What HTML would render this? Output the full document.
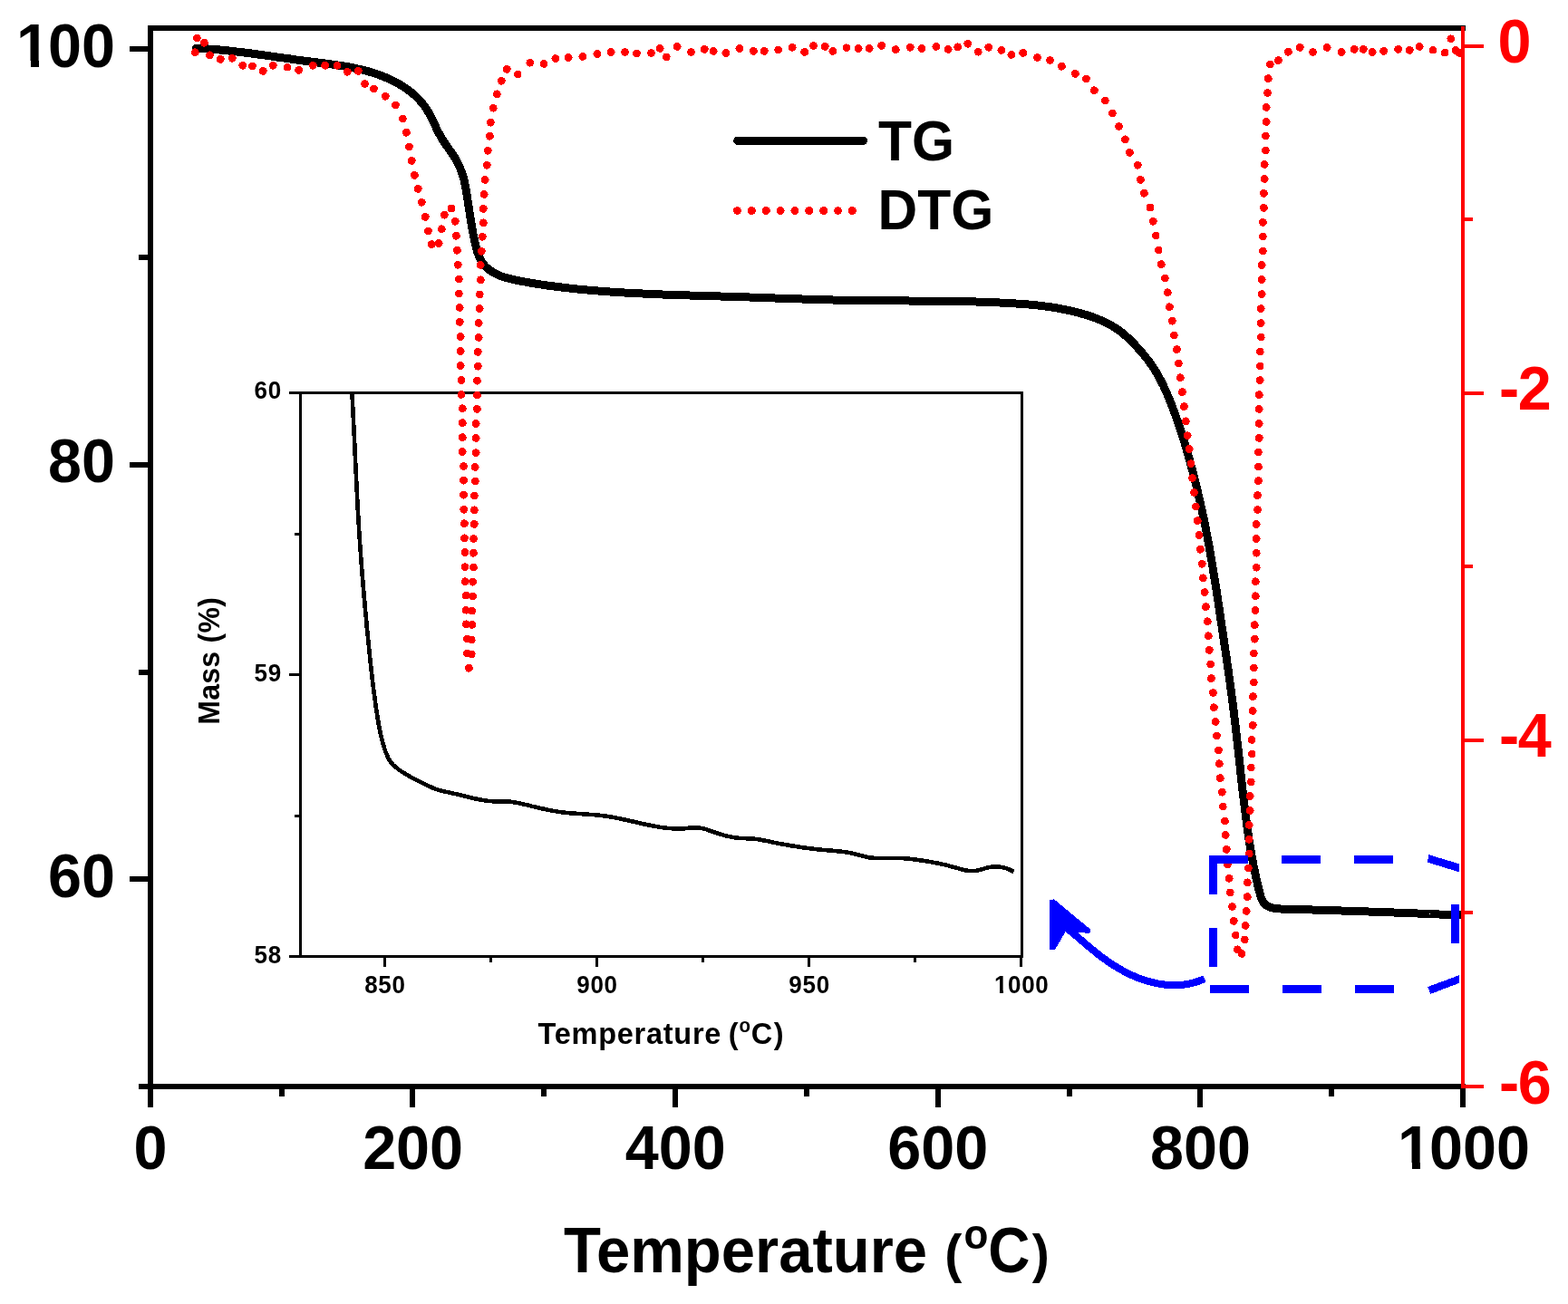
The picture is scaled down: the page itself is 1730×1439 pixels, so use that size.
<!DOCTYPE html>
<html lang="en">
<head>
<meta charset="utf-8">
<title>TG / DTG curves</title>
<style>
html,body{margin:0;padding:0;background:#fff;}
body{width:1730px;height:1439px;overflow:hidden;}
svg{display:block;}
text{font-family:"Liberation Sans",sans-serif;font-weight:bold;}
</style>
</head>
<body>
<svg width="1730" height="1439" viewBox="0 0 1730 1439" shape-rendering="crispEdges">
<rect width="1730" height="1439" fill="#fff"/>
<g id="curves">
<path d="M216.2 53.3L218.3 53.4L220.3 53.5L222.3 53.6L224.3 53.7L226.3 53.8L228.3 53.9L230.3 54.1L232.3 54.2L234.3 54.3L236.3 54.5L238.3 54.7L240.3 54.8L242.3 55.0L244.3 55.2L246.3 55.4L248.3 55.6L250.3 55.8L252.3 56.0L254.3 56.2L256.3 56.4L258.2 56.6L260.2 56.9L262.2 57.1L264.2 57.3L266.2 57.6L268.1 57.8L270.1 58.1L272.1 58.3L274.1 58.6L276.0 58.8L278.0 59.1L280.0 59.4L282.0 59.6L284.0 59.9L285.9 60.2L287.9 60.4L289.9 60.7L291.8 61.0L293.8 61.3L295.8 61.6L297.8 61.8L299.7 62.1L301.7 62.4L303.7 62.7L305.7 63.0L307.7 63.3L309.6 63.5L311.6 63.8L313.6 64.1L315.6 64.4L317.5 64.7L319.5 64.9L321.5 65.2L323.5 65.5L325.5 65.8L327.5 66.1L329.5 66.3L331.4 66.6L333.4 66.9L335.4 67.1L337.4 67.4L339.4 67.6L341.4 67.9L343.4 68.1L345.4 68.4L347.4 68.6L349.4 68.9L351.4 69.1L353.4 69.4L355.4 69.6L357.4 69.9L359.4 70.1L361.4 70.4L363.4 70.7L365.4 70.9L367.4 71.2L369.4 71.5L371.4 71.8L373.3 72.1L375.3 72.4L377.3 72.7L379.3 73.0L381.3 73.3L383.2 73.7L385.2 74.0L387.2 74.4L389.1 74.8L391.1 75.2L393.0 75.6L395.0 76.0L396.9 76.4L398.9 76.9L400.8 77.4L402.7 77.9L404.6 78.4L406.6 78.9L408.5 79.4L410.4 80.0L412.3 80.6L414.1 81.2L416.0 81.8L417.9 82.5L419.7 83.2L421.6 83.9L423.4 84.6L425.3 85.4L427.1 86.1L428.9 87.0L430.7 87.8L432.5 88.7L434.3 89.6L436.1 90.5L437.9 91.4L439.6 92.4L441.4 93.4L443.1 94.5L444.8 95.6L446.5 96.7L448.2 97.8L449.8 99.0L451.5 100.2L453.1 101.4L454.6 102.7L456.2 104.0L457.7 105.3L459.2 106.7L460.6 108.1L462.0 109.5L463.4 111.0L464.7 112.5L466.0 114.0L467.2 115.6L468.4 117.1L469.6 118.8L470.7 120.4L471.7 122.1L472.7 123.8L473.7 125.6L474.6 127.3L475.6 129.1L476.5 130.9L477.3 132.7L478.2 134.5L479.1 136.3L479.9 138.1L480.8 139.9L481.6 141.8L482.5 143.6L483.4 145.4L484.3 147.1L485.3 148.9L486.2 150.7L487.3 152.4L488.3 154.1L489.4 155.8L490.5 157.5L491.6 159.1L492.8 160.8L493.9 162.4L495.1 164.1L496.2 165.7L497.4 167.3L498.5 169.0L499.6 170.6L500.7 172.3L501.8 174.0L502.8 175.7L503.8 177.4L504.7 179.1L505.6 180.9L506.5 182.7L507.3 184.5L508.0 186.3L508.7 188.2L509.4 190.1L510.0 192.0L510.6 193.9L511.2 195.8L511.7 197.7L512.2 199.7L512.6 201.7L513.0 203.6L513.4 205.6L513.8 207.6L514.2 209.6L514.5 211.6L514.9 213.6L515.2 215.6L515.5 217.6L515.8 219.6L516.1 221.6L516.4 223.5L516.7 225.5L517.0 227.5L517.3 229.5L517.6 231.4L517.9 233.4L518.2 235.4L518.5 237.4L518.8 239.3L519.1 241.3L519.4 243.2L519.7 245.2L520.1 247.2L520.4 249.1L520.7 251.1L521.1 253.0L521.4 255.0L521.8 257.0L522.2 258.9L522.6 260.9L523.0 262.8L523.4 264.8L523.8 266.8L524.3 268.7L524.8 270.7L525.3 272.7L525.8 274.6L526.3 276.6L526.9 278.5L527.6 280.4L528.3 282.3L529.0 284.2L529.9 286.0L530.8 287.7L531.9 289.4L533.0 291.0L534.3 292.6L535.6 294.1L537.0 295.4L538.6 296.8L540.1 298.0L541.8 299.1L543.4 300.2L545.1 301.2L546.9 302.1L548.7 303.0L550.5 303.7L552.3 304.5L554.2 305.2L556.1 305.8L558.0 306.4L559.9 306.9L561.9 307.4L563.8 307.9L565.8 308.4L567.8 308.8L569.8 309.2L571.8 309.6L573.7 310.0L575.7 310.4L577.7 310.8L579.7 311.1L581.7 311.5L583.7 311.8L585.6 312.2L587.6 312.5L589.6 312.9L591.6 313.2L593.6 313.5L595.6 313.8L597.5 314.1L599.5 314.4L601.5 314.7L603.5 315.0L605.5 315.2L607.4 315.5L609.4 315.8L611.4 316.0L613.4 316.3L615.4 316.5L617.3 316.8L619.3 317.0L621.3 317.2L623.3 317.5L625.3 317.7L627.2 317.9L629.2 318.1L631.2 318.3L633.2 318.5L635.2 318.8L637.2 319.0L639.2 319.2L641.1 319.3L643.1 319.5L645.1 319.7L647.1 319.9L649.1 320.1L651.1 320.3L653.1 320.4L655.1 320.6L657.1 320.8L659.0 320.9L661.0 321.1L663.0 321.2L665.0 321.4L667.0 321.5L669.0 321.7L671.0 321.8L673.0 322.0L675.0 322.1L677.0 322.2L679.0 322.4L681.0 322.5L683.0 322.6L685.0 322.7L687.0 322.9L689.0 323.0L691.0 323.1L693.0 323.2L695.0 323.3L697.0 323.4L699.0 323.5L701.0 323.6L702.9 323.7L704.9 323.8L706.9 323.9L708.9 324.0L710.9 324.1L712.9 324.2L714.9 324.3L716.9 324.4L718.9 324.5L720.9 324.6L722.9 324.6L724.9 324.7L727.0 324.8L729.0 324.9L731.0 325.0L733.0 325.0L735.0 325.1L737.0 325.2L739.0 325.3L741.0 325.3L743.0 325.4L745.0 325.5L747.0 325.5L749.0 325.6L751.0 325.7L753.0 325.7L755.0 325.8L757.0 325.8L759.0 325.9L761.0 326.0L763.0 326.0L765.0 326.1L767.0 326.2L769.0 326.2L771.0 326.3L773.0 326.3L775.0 326.4L777.0 326.5L779.0 326.5L781.0 326.6L783.0 326.6L785.0 326.7L787.0 326.7L789.0 326.8L791.0 326.9L793.0 326.9L795.0 327.0L797.0 327.0L799.0 327.1L801.0 327.2L803.0 327.2L805.0 327.3L807.1 327.3L809.1 327.4L811.1 327.5L813.1 327.5L815.1 327.6L817.1 327.7L819.1 327.7L821.1 327.8L823.1 327.9L825.1 327.9L827.1 328.0L829.1 328.1L831.1 328.1L833.1 328.2L835.1 328.3L837.1 328.3L839.1 328.4L841.1 328.5L843.1 328.6L845.1 328.6L847.1 328.7L849.1 328.8L851.1 328.8L853.1 328.9L855.1 329.0L857.1 329.0L859.1 329.1L861.0 329.2L863.0 329.3L865.0 329.3L867.0 329.4L869.0 329.5L871.0 329.5L873.0 329.6L875.0 329.7L877.0 329.7L879.0 329.8L881.0 329.9L883.0 329.9L885.0 330.0L887.0 330.1L889.0 330.1L891.0 330.2L893.0 330.3L895.0 330.3L897.0 330.4L899.0 330.4L901.0 330.5L903.0 330.6L905.0 330.6L907.0 330.7L909.0 330.7L911.0 330.8L913.0 330.8L915.0 330.9L917.0 330.9L919.0 331.0L921.0 331.0L923.0 331.1L925.0 331.1L927.0 331.2L929.0 331.2L931.0 331.3L933.0 331.3L935.0 331.3L937.0 331.4L939.0 331.4L941.0 331.4L943.0 331.5L945.0 331.5L947.0 331.5L949.0 331.6L951.0 331.6L953.0 331.6L955.0 331.6L957.0 331.7L959.0 331.7L961.0 331.7L963.0 331.7L965.0 331.7L967.0 331.7L969.0 331.8L971.0 331.8L973.0 331.8L975.0 331.8L977.0 331.8L979.0 331.8L981.0 331.8L983.0 331.9L985.0 331.9L987.0 331.9L989.0 331.9L991.1 331.9L993.1 331.9L995.1 331.9L997.1 331.9L999.1 331.9L1001.1 331.9L1003.1 332.0L1005.1 332.0L1007.1 332.0L1009.1 332.0L1011.1 332.0L1013.1 332.0L1015.1 332.0L1017.1 332.0L1019.1 332.1L1021.1 332.1L1023.1 332.1L1025.1 332.1L1027.1 332.1L1029.1 332.1L1031.1 332.1L1033.1 332.2L1035.1 332.2L1037.1 332.2L1039.1 332.2L1041.1 332.3L1043.1 332.3L1045.1 332.3L1047.1 332.3L1049.1 332.4L1051.1 332.4L1053.1 332.4L1055.1 332.5L1057.1 332.5L1059.1 332.5L1061.1 332.6L1063.1 332.6L1065.1 332.7L1067.1 332.7L1069.1 332.8L1071.1 332.8L1073.1 332.9L1075.1 332.9L1077.1 333.0L1079.1 333.0L1081.1 333.1L1083.1 333.2L1085.1 333.2L1087.1 333.3L1089.1 333.4L1091.1 333.5L1093.1 333.5L1095.1 333.6L1097.1 333.7L1099.1 333.8L1101.1 333.9L1103.1 334.0L1105.1 334.1L1107.1 334.2L1109.1 334.3L1111.1 334.4L1113.1 334.5L1115.1 334.6L1117.1 334.7L1119.1 334.8L1121.1 335.0L1123.1 335.1L1125.1 335.2L1127.1 335.4L1129.1 335.5L1131.1 335.7L1133.1 335.9L1135.1 336.0L1137.1 336.2L1139.1 336.4L1141.0 336.6L1143.0 336.8L1145.0 337.0L1147.0 337.3L1149.0 337.5L1151.0 337.7L1152.9 338.0L1154.9 338.3L1156.9 338.5L1158.9 338.8L1160.9 339.1L1162.8 339.4L1164.8 339.8L1166.8 340.1L1168.7 340.4L1170.7 340.8L1172.7 341.2L1174.6 341.6L1176.6 342.0L1178.5 342.4L1180.5 342.8L1182.4 343.3L1184.4 343.7L1186.3 344.2L1188.3 344.7L1190.2 345.2L1192.2 345.7L1194.1 346.3L1196.0 346.8L1198.0 347.4L1199.9 348.0L1201.8 348.6L1203.7 349.3L1205.6 349.9L1207.5 350.6L1209.4 351.3L1211.3 352.1L1213.1 352.8L1215.0 353.6L1216.8 354.4L1218.6 355.3L1220.4 356.1L1222.2 357.0L1224.0 358.0L1225.7 358.9L1227.4 359.9L1229.1 361.0L1230.8 362.0L1232.5 363.1L1234.1 364.3L1235.7 365.4L1237.3 366.7L1238.9 367.9L1240.4 369.2L1241.9 370.5L1243.4 371.8L1244.9 373.2L1246.3 374.6L1247.8 376.0L1249.2 377.4L1250.6 378.8L1252.0 380.3L1253.3 381.8L1254.7 383.2L1256.0 384.7L1257.4 386.2L1258.7 387.8L1260.0 389.3L1261.3 390.8L1262.6 392.4L1263.8 393.9L1265.1 395.5L1266.3 397.0L1267.5 398.6L1268.7 400.2L1269.8 401.9L1271.0 403.5L1272.1 405.2L1273.2 406.8L1274.2 408.5L1275.3 410.2L1276.3 411.9L1277.3 413.6L1278.3 415.4L1279.2 417.1L1280.2 418.9L1281.1 420.7L1282.0 422.5L1282.9 424.2L1283.8 426.0L1284.6 427.9L1285.4 429.7L1286.3 431.5L1287.1 433.3L1287.9 435.2L1288.7 437.0L1289.4 438.9L1290.2 440.7L1291.0 442.6L1291.7 444.5L1292.4 446.3L1293.2 448.2L1293.9 450.1L1294.6 452.0L1295.3 453.8L1296.0 455.7L1296.7 457.6L1297.4 459.5L1298.0 461.4L1298.7 463.3L1299.4 465.2L1300.0 467.1L1300.7 468.9L1301.3 470.8L1301.9 472.7L1302.6 474.6L1303.2 476.5L1303.8 478.4L1304.4 480.3L1305.0 482.3L1305.6 484.2L1306.2 486.1L1306.8 488.0L1307.4 489.9L1307.9 491.8L1308.5 493.7L1309.1 495.6L1309.6 497.6L1310.2 499.5L1310.7 501.4L1311.3 503.3L1311.8 505.2L1312.3 507.2L1312.9 509.1L1313.4 511.0L1313.9 513.0L1314.4 514.9L1315.0 516.8L1315.5 518.7L1316.0 520.7L1316.5 522.6L1317.0 524.6L1317.5 526.5L1318.0 528.4L1318.4 530.4L1318.9 532.3L1319.4 534.2L1319.9 536.2L1320.4 538.1L1320.8 540.1L1321.3 542.0L1321.8 544.0L1322.2 545.9L1322.7 547.9L1323.1 549.8L1323.6 551.8L1324.0 553.7L1324.5 555.7L1324.9 557.6L1325.3 559.6L1325.8 561.5L1326.2 563.5L1326.6 565.4L1327.0 567.4L1327.4 569.4L1327.9 571.3L1328.3 573.3L1328.7 575.2L1329.1 577.2L1329.5 579.2L1329.9 581.1L1330.3 583.1L1330.6 585.0L1331.0 587.0L1331.4 589.0L1331.8 590.9L1332.2 592.9L1332.5 594.9L1332.9 596.8L1333.3 598.8L1333.6 600.8L1334.0 602.7L1334.3 604.7L1334.7 606.7L1335.0 608.7L1335.4 610.6L1335.7 612.6L1336.1 614.6L1336.4 616.5L1336.8 618.5L1337.1 620.5L1337.4 622.5L1337.7 624.4L1338.1 626.4L1338.4 628.4L1338.7 630.4L1339.0 632.3L1339.4 634.3L1339.7 636.3L1340.0 638.3L1340.3 640.2L1340.6 642.2L1340.9 644.2L1341.3 646.2L1341.6 648.2L1341.9 650.1L1342.2 652.1L1342.5 654.1L1342.8 656.1L1343.1 658.0L1343.4 660.0L1343.7 662.0L1344.0 664.0L1344.3 666.0L1344.6 667.9L1344.9 669.9L1345.2 671.9L1345.5 673.9L1345.8 675.9L1346.1 677.8L1346.4 679.8L1346.6 681.8L1346.9 683.8L1347.2 685.8L1347.5 687.7L1347.8 689.7L1348.1 691.7L1348.4 693.7L1348.7 695.6L1349.0 697.6L1349.3 699.6L1349.6 701.6L1349.9 703.6L1350.2 705.5L1350.5 707.5L1350.8 709.5L1351.0 711.5L1351.3 713.4L1351.6 715.4L1351.9 717.4L1352.2 719.4L1352.5 721.4L1352.8 723.3L1353.1 725.3L1353.4 727.3L1353.6 729.3L1353.9 731.2L1354.2 733.2L1354.5 735.2L1354.8 737.2L1355.1 739.2L1355.3 741.1L1355.6 743.1L1355.9 745.1L1356.2 747.1L1356.5 749.1L1356.7 751.0L1357.0 753.0L1357.3 755.0L1357.6 757.0L1357.8 759.0L1358.1 761.0L1358.4 762.9L1358.6 764.9L1358.9 766.9L1359.1 768.9L1359.4 770.9L1359.7 772.9L1359.9 774.8L1360.2 776.8L1360.4 778.8L1360.7 780.8L1360.9 782.8L1361.2 784.8L1361.4 786.8L1361.6 788.8L1361.9 790.8L1362.1 792.7L1362.4 794.7L1362.6 796.7L1362.8 798.7L1363.1 800.7L1363.3 802.7L1363.5 804.7L1363.8 806.7L1364.0 808.7L1364.2 810.7L1364.4 812.7L1364.7 814.7L1364.9 816.6L1365.1 818.6L1365.3 820.6L1365.6 822.6L1365.8 824.6L1366.0 826.6L1366.2 828.6L1366.4 830.6L1366.6 832.6L1366.9 834.6L1367.1 836.6L1367.3 838.6L1367.5 840.6L1367.7 842.5L1368.0 844.5L1368.2 846.5L1368.4 848.5L1368.6 850.5L1368.8 852.5L1369.0 854.5L1369.3 856.5L1369.5 858.5L1369.7 860.5L1369.9 862.4L1370.1 864.4L1370.4 866.4L1370.6 868.4L1370.8 870.4L1371.0 872.4L1371.3 874.3L1371.5 876.3L1371.7 878.3L1371.9 880.3L1372.2 882.3L1372.4 884.3L1372.6 886.2L1372.9 888.2L1373.1 890.2L1373.4 892.2L1373.6 894.1L1373.9 896.1L1374.1 898.1L1374.4 900.1L1374.6 902.1L1374.9 904.0L1375.1 906.0L1375.4 908.0L1375.7 910.0L1375.9 911.9L1376.2 913.9L1376.5 915.9L1376.8 917.9L1377.1 919.8L1377.3 921.8L1377.6 923.8L1377.9 925.8L1378.2 927.7L1378.6 929.7L1378.9 931.7L1379.2 933.7L1379.5 935.6L1379.9 937.6L1380.2 939.6L1380.5 941.6L1380.9 943.6L1381.2 945.5L1381.6 947.5L1382.0 949.5L1382.3 951.5L1382.7 953.4L1383.1 955.4L1383.5 957.4L1383.9 959.4L1384.3 961.4L1384.7 963.3L1385.1 965.3L1385.6 967.3L1386.0 969.3L1386.4 971.3L1386.9 973.2L1387.4 975.2L1387.8 977.2L1388.3 979.2L1388.8 981.2L1389.3 983.2L1389.8 985.1L1390.3 987.1L1390.9 989.0L1391.6 990.9L1392.3 992.6L1393.2 994.3L1394.1 995.9L1395.3 997.3L1396.6 998.5L1398.0 999.6L1399.6 1000.5L1401.4 1001.2L1403.2 1001.8L1405.0 1002.2L1407.0 1002.5L1409.0 1002.7L1411.0 1002.9L1413.1 1003.0L1415.1 1003.0L1417.2 1003.1L1419.3 1003.1L1421.4 1003.2L1423.4 1003.3L1425.5 1003.3L1427.5 1003.4L1429.6 1003.4L1431.6 1003.5L1433.7 1003.5L1435.7 1003.6L1437.8 1003.7L1439.8 1003.7L1441.9 1003.8L1443.9 1003.8L1445.9 1003.9L1447.9 1004.0L1450.0 1004.0L1452.0 1004.1L1454.0 1004.1L1456.0 1004.2L1458.1 1004.3L1460.1 1004.3L1462.1 1004.4L1464.1 1004.4L1466.1 1004.5L1468.1 1004.6L1470.1 1004.6L1472.1 1004.7L1474.1 1004.8L1476.1 1004.8L1478.1 1004.9L1480.1 1005.0L1482.1 1005.0L1484.1 1005.1L1486.1 1005.2L1488.1 1005.2L1490.1 1005.3L1492.1 1005.4L1494.1 1005.4L1496.0 1005.5L1498.0 1005.6L1500.0 1005.6L1502.0 1005.7L1504.0 1005.8L1506.0 1005.9L1507.9 1005.9L1509.9 1006.0L1511.9 1006.1L1513.9 1006.1L1515.9 1006.2L1517.9 1006.3L1519.8 1006.4L1521.8 1006.4L1523.8 1006.5L1525.8 1006.6L1527.8 1006.6L1529.7 1006.7L1531.7 1006.8L1533.7 1006.9L1535.7 1006.9L1537.7 1007.0L1539.6 1007.1L1541.6 1007.2L1543.6 1007.2L1545.6 1007.3L1547.6 1007.4L1549.6 1007.5L1551.6 1007.5L1553.5 1007.6L1555.5 1007.7L1557.5 1007.8L1559.5 1007.9L1561.5 1007.9L1563.5 1008.0L1565.5 1008.1L1567.5 1008.2L1569.5 1008.2L1571.5 1008.3L1573.5 1008.4L1575.5 1008.5L1577.5 1008.6L1579.5 1008.6L1581.5 1008.7L1583.5 1008.8L1585.6 1008.9L1587.6 1009.0L1589.6 1009.0L1591.6 1009.1L1593.6 1009.2L1595.7 1009.3L1597.7 1009.4L1599.7 1009.4L1601.7 1009.5L1603.8 1009.6L1605.8 1009.7L1607.9 1009.8L1609.9 1009.8L1611.9 1009.9" fill="none" stroke="#000" stroke-width="9" stroke-linejoin="round" stroke-linecap="round"/>
</g>
<g id="inset">
<rect x="319" y="432" width="809.9" height="3" fill="#000"/>
<rect x="319" y="1053.9" width="809.9" height="3" fill="#000"/>
<rect x="330" y="432" width="3" height="624.9" fill="#000"/>
<rect x="1125.9" y="432" width="3" height="624.9" fill="#000"/>
<rect x="319" y="742.95" width="11" height="3" fill="#000"/>
<rect x="325" y="588" width="5" height="3" fill="#000"/>
<rect x="325" y="899" width="5" height="3" fill="#000"/>
<rect x="423" y="1056" width="3" height="10.8" fill="#000"/>
<rect x="657.1" y="1056" width="3" height="10.8" fill="#000"/>
<rect x="891.2" y="1056" width="3" height="10.8" fill="#000"/>
<rect x="1125.3" y="1056" width="3" height="10.8" fill="#000"/>
<rect x="540.05" y="1056" width="3" height="5.5" fill="#000"/>
<rect x="774.15" y="1056" width="3" height="5.5" fill="#000"/>
<rect x="1008.25" y="1056" width="3" height="5.5" fill="#000"/>
<text transform="translate(310.8,440.1) scale(1,1.04)" font-size="26" text-anchor="end" fill="#000" letter-spacing="0.7">60</text>
<text transform="translate(310.8,751.55) scale(1,1.04)" font-size="26" text-anchor="end" fill="#000" letter-spacing="0.7">59</text>
<text transform="translate(310.8,1062.5) scale(1,1.04)" font-size="26" text-anchor="end" fill="#000" letter-spacing="0.7">58</text>
<text transform="translate(424.9,1096.2) scale(1,1.04)" font-size="26" text-anchor="middle" fill="#000" letter-spacing="0.7">850</text>
<text transform="translate(659,1096.2) scale(1,1.04)" font-size="26" text-anchor="middle" fill="#000" letter-spacing="0.7">900</text>
<text transform="translate(893.1,1096.2) scale(1,1.04)" font-size="26" text-anchor="middle" fill="#000" letter-spacing="0.7">950</text>
<text transform="translate(1127.2,1096.2) scale(1,1.04)" font-size="26" text-anchor="middle" fill="#000" letter-spacing="0.7">1000</text>
<text transform="translate(593.5,1152.3) scale(1,1.04)" font-size="32.5" text-anchor="start" fill="#000" letter-spacing="0.75">Temperature <tspan x="210.2">(</tspan><tspan x="222" font-size="20.5" dy="-13">o</tspan><tspan x="235.2" font-size="32.5" dy="13">C</tspan><tspan x="260.2">)</tspan></text>
<text transform="translate(242.4,799.8) rotate(-90) scale(1,1.04)" font-size="32" text-anchor="start" fill="#000" letter-spacing="0.3">Mass (%)</text>
<path d="M388.5 434.7L388.6 436.7L388.7 438.7L388.8 440.7L388.9 442.7L389.0 444.7L389.1 446.7L389.2 448.7L389.3 450.7L389.4 452.7L389.5 454.7L389.6 456.7L389.7 458.7L389.8 460.7L389.9 462.7L390.0 464.7L390.1 466.7L390.2 468.7L390.3 470.7L390.4 472.7L390.5 474.7L390.6 476.7L390.7 478.7L390.8 480.7L390.9 482.7L391.0 484.7L391.1 486.7L391.2 488.7L391.3 490.7L391.4 492.7L391.5 494.7L391.6 496.7L391.7 498.7L391.7 500.7L391.8 502.7L391.9 504.7L392.0 506.7L392.1 508.7L392.2 510.7L392.3 512.7L392.4 514.7L392.5 516.6L392.6 518.6L392.7 520.6L392.8 522.6L392.9 524.6L393.0 526.6L393.1 528.6L393.2 530.6L393.3 532.6L393.4 534.6L393.5 536.6L393.6 538.6L393.7 540.6L393.8 542.6L393.9 544.6L394.0 546.6L394.1 548.6L394.2 550.6L394.3 552.6L394.4 554.6L394.5 556.6L394.6 558.6L394.7 560.6L394.8 562.6L394.9 564.6L395.1 566.6L395.2 568.6L395.3 570.6L395.4 572.6L395.5 574.6L395.6 576.6L395.8 578.6L395.9 580.6L396.0 582.6L396.1 584.6L396.3 586.6L396.4 588.6L396.5 590.6L396.7 592.6L396.8 594.6L396.9 596.6L397.1 598.6L397.2 600.6L397.3 602.6L397.5 604.6L397.6 606.5L397.8 608.5L397.9 610.5L398.1 612.5L398.2 614.5L398.3 616.5L398.5 618.5L398.6 620.5L398.8 622.5L399.0 624.5L399.1 626.5L399.3 628.5L399.4 630.5L399.6 632.5L399.7 634.5L399.9 636.5L400.1 638.5L400.2 640.5L400.4 642.4L400.5 644.4L400.7 646.4L400.9 648.4L401.0 650.4L401.2 652.4L401.4 654.4L401.6 656.4L401.7 658.4L401.9 660.4L402.1 662.4L402.3 664.4L402.4 666.4L402.6 668.4L402.8 670.3L403.0 672.3L403.1 674.3L403.3 676.3L403.5 678.3L403.7 680.3L403.9 682.3L404.1 684.3L404.3 686.3L404.4 688.3L404.6 690.3L404.8 692.3L405.0 694.3L405.2 696.3L405.4 698.3L405.6 700.2L405.8 702.2L406.0 704.2L406.2 706.2L406.4 708.2L406.6 710.2L406.8 712.2L407.0 714.2L407.2 716.2L407.4 718.2L407.6 720.2L407.8 722.2L408.0 724.2L408.2 726.2L408.4 728.1L408.6 730.1L408.9 732.1L409.1 734.1L409.3 736.1L409.5 738.1L409.7 740.1L410.0 742.1L410.2 744.1L410.4 746.1L410.6 748.1L410.9 750.0L411.1 752.0L411.3 754.0L411.6 756.0L411.8 758.0L412.1 760.0L412.3 762.0L412.6 763.9L412.8 765.9L413.1 767.9L413.4 769.9L413.6 771.9L413.9 773.8L414.2 775.8L414.4 777.8L414.7 779.8L415.0 781.7L415.3 783.7L415.6 785.7L415.9 787.7L416.2 789.6L416.5 791.6L416.8 793.6L417.2 795.5L417.5 797.5L417.8 799.5L418.2 801.4L418.6 803.4L419.0 805.3L419.4 807.3L419.8 809.3L420.3 811.2L420.7 813.2L421.2 815.1L421.7 817.1L422.2 819.1L422.7 821.0L423.3 823.0L423.9 824.9L424.5 826.9L425.1 828.8L425.8 830.7L426.6 832.5L427.4 834.4L428.2 836.2L429.2 837.9L430.2 839.6L431.4 841.2L432.6 842.7L433.9 844.2L435.4 845.5L436.9 846.8L438.4 848.1L440.0 849.3L441.7 850.5L443.3 851.6L445.0 852.7L446.7 853.7L448.4 854.7L450.2 855.7L451.9 856.7L453.7 857.7L455.5 858.6L457.3 859.5L459.0 860.5L460.8 861.4L462.6 862.3L464.4 863.2L466.2 864.0L468.0 864.9L469.8 865.8L471.6 866.7L473.4 867.6L475.2 868.4L477.0 869.3L478.9 870.0L480.7 870.7L482.6 871.4L484.5 872.0L486.4 872.5L488.3 873.0L490.3 873.5L492.2 873.9L494.2 874.3L496.2 874.8L498.1 875.2L500.1 875.6L502.1 876.0L504.0 876.5L506.0 877.0L507.9 877.4L509.9 877.9L511.8 878.4L513.8 878.9L515.7 879.4L517.7 879.9L519.6 880.3L521.6 880.8L523.5 881.2L525.5 881.6L527.4 882.1L529.4 882.4L531.3 882.8L533.3 883.1L535.3 883.4L537.2 883.7L539.2 883.9L541.2 884.1L543.2 884.2L545.2 884.3L547.2 884.4L549.2 884.4L551.2 884.4L553.2 884.4L555.3 884.4L557.3 884.4L559.3 884.5L561.3 884.6L563.3 884.7L565.2 885.0L567.2 885.3L569.2 885.6L571.1 886.0L573.1 886.4L575.0 886.8L577.0 887.3L578.9 887.8L580.9 888.2L582.8 888.7L584.8 889.2L586.7 889.7L588.7 890.1L590.6 890.6L592.6 891.1L594.5 891.5L596.5 892.0L598.5 892.4L600.4 892.8L602.4 893.3L604.3 893.7L606.3 894.1L608.3 894.4L610.2 894.8L612.2 895.1L614.2 895.5L616.1 895.8L618.1 896.1L620.1 896.3L622.1 896.6L624.1 896.8L626.1 897.0L628.0 897.2L630.0 897.3L632.0 897.5L634.0 897.7L636.0 897.8L638.0 897.9L640.0 898.1L642.0 898.2L644.0 898.3L646.0 898.5L648.0 898.6L650.0 898.8L652.0 898.9L654.0 899.1L656.0 899.2L658.0 899.4L660.0 899.6L661.9 899.8L663.9 900.0L665.9 900.3L667.9 900.5L669.9 900.8L671.8 901.1L673.8 901.5L675.8 901.8L677.7 902.2L679.7 902.5L681.7 902.9L683.6 903.3L685.6 903.7L687.5 904.2L689.5 904.6L691.5 905.0L693.4 905.5L695.4 905.9L697.3 906.4L699.3 906.8L701.2 907.3L703.2 907.7L705.1 908.2L707.1 908.6L709.1 909.1L711.0 909.5L713.0 909.9L714.9 910.3L716.9 910.7L718.9 911.1L720.8 911.5L722.8 911.9L724.8 912.2L726.7 912.6L728.7 912.9L730.7 913.2L732.7 913.4L734.6 913.7L736.6 913.9L738.6 914.1L740.6 914.2L742.6 914.4L744.6 914.5L746.6 914.5L748.6 914.5L750.5 914.5L752.5 914.4L754.6 914.3L756.6 914.1L758.6 913.9L760.6 913.7L762.6 913.5L764.6 913.4L766.6 913.3L768.6 913.3L770.5 913.5L772.5 913.7L774.4 914.0L776.4 914.5L778.3 915.0L780.2 915.6L782.1 916.3L784.0 916.9L785.9 917.6L787.9 918.3L789.8 918.9L791.7 919.5L793.6 920.2L795.5 920.8L797.4 921.3L799.3 921.9L801.3 922.4L803.2 922.9L805.2 923.3L807.1 923.7L809.1 924.0L811.0 924.3L813.0 924.6L815.0 924.8L817.0 924.9L819.0 925.0L821.0 925.1L823.0 925.2L825.0 925.3L827.0 925.4L829.0 925.5L831.0 925.7L833.0 925.8L835.0 926.1L837.0 926.4L839.0 926.7L840.9 927.1L842.9 927.4L844.8 927.8L846.8 928.2L848.8 928.7L850.7 929.1L852.7 929.5L854.6 929.9L856.6 930.3L858.6 930.7L860.5 931.0L862.5 931.4L864.5 931.8L866.4 932.1L868.4 932.5L870.4 932.8L872.4 933.2L874.3 933.5L876.3 933.8L878.3 934.1L880.3 934.4L882.2 934.7L884.2 935.0L886.2 935.3L888.2 935.6L890.2 935.9L892.1 936.1L894.1 936.4L896.1 936.6L898.1 936.8L900.1 937.1L902.1 937.3L904.1 937.5L906.1 937.7L908.1 937.9L910.1 938.0L912.1 938.2L914.1 938.4L916.1 938.6L918.0 938.7L920.0 938.9L922.0 939.1L924.0 939.3L926.0 939.5L928.0 939.7L930.0 940.0L932.0 940.2L933.9 940.5L935.9 940.9L937.9 941.2L939.8 941.6L941.8 942.1L943.7 942.6L945.7 943.1L947.6 943.6L949.5 944.1L951.5 944.6L953.4 945.1L955.4 945.5L957.3 945.9L959.2 946.3L961.2 946.5L963.2 946.7L965.2 946.9L967.1 947.0L969.1 947.0L971.1 947.0L973.1 947.0L975.1 947.0L977.1 946.9L979.2 946.9L981.2 946.8L983.2 946.8L985.2 946.8L987.2 946.8L989.2 946.8L991.2 946.8L993.2 946.9L995.2 947.0L997.2 947.2L999.2 947.3L1001.2 947.5L1003.2 947.7L1005.2 947.9L1007.2 948.2L1009.2 948.4L1011.2 948.7L1013.1 949.0L1015.1 949.3L1017.1 949.6L1019.1 949.9L1021.1 950.2L1023.0 950.5L1025.0 950.9L1027.0 951.2L1028.9 951.6L1030.9 951.9L1032.9 952.3L1034.8 952.7L1036.8 953.1L1038.7 953.5L1040.7 953.9L1042.6 954.4L1044.6 954.8L1046.5 955.3L1048.4 955.9L1050.4 956.4L1052.3 956.9L1054.2 957.5L1056.2 958.0L1058.1 958.6L1060.1 959.1L1062.0 959.6L1064.0 960.1L1066.0 960.5L1068.0 960.8L1069.9 961.1L1071.9 961.2L1073.9 961.1L1075.8 961.0L1077.8 960.6L1079.8 960.2L1081.7 959.7L1083.7 959.2L1085.6 958.6L1087.6 958.0L1089.5 957.5L1091.5 957.1L1093.4 956.7L1095.4 956.5L1097.4 956.4L1099.3 956.4L1101.3 956.4L1103.3 956.7L1105.2 957.0L1107.2 957.4L1109.1 957.9L1111.0 958.5L1112.9 959.3L1114.7 960.1L1116.6 961.0L1118.4 961.9" fill="none" stroke="#000" stroke-width="4.6" stroke-linejoin="round" />
</g>
<path id="dtg" d="M215.3 57.7h0M217.3 42.1h0M225.4 47.3h0M231.4 60.8h0M243.3 65.4h0M256.3 64.3h0M267.7 72.3h0M278.4 73.0h0M290.3 78.4h0M301.3 72.3h0M317.0 74.1h0M329.7 77.4h0M345.3 72.3h0M358.6 72.3h0M371.9 72.3h0M383.3 79.3h0M395.3 78.4h0M402.5 92.4h0M412.4 98.0h0M425.3 106.3h0M436.4 116.0h0M444.3 130.9h0M448.4 146.3h0M451.4 161.9h0M454.3 177.4h0M457.4 193.4h0M461.3 208.4h0M465.3 223.3h0M469.3 239.4h0M472.4 255.0h0M476.3 269.6h0M484.2 268.5h0M487.3 252.7h0M490.3 237.2h0M498.0 230.0h0M502.3 244.3h0M503.4 260.3h0M504.4 276.3h0M505.3 292.3h0M506.3 308.1h0M506.3 324.1h0M507.3 339.5h0M507.3 355.4h0M508.2 371.5h0M508.2 387.5h0M508.2 403.5h0M509.0 419.5h0M508.9 435.4h0M510.3 450.7h0M510.3 466.6h0M510.3 482.6h0M510.3 498.5h0M511.5 514.6h0M511.5 530.2h0M511.5 546.2h0M511.7 562.3h0M512.4 577.7h0M512.4 593.8h0M513.1 609.6h0M513.1 625.7h0M513.4 641.7h0M514.1 657.1h0M514.1 673.2h0M514.3 688.8h0M515.5 704.9h0M515.5 720.9h0M517.4 737.3h0M520.2 721.9h0M520.2 706.1h0M520.7 689.5h0M520.9 674.1h0M521.7 658.1h0M521.7 642.2h0M522.4 626.1h0M522.4 610.3h0M522.6 594.5h0M523.3 578.4h0M523.3 562.8h0M523.3 547.0h0M524.3 530.9h0M524.3 515.5h0M525.2 499.7h0M525.2 483.4h0M525.2 467.5h0M526.4 451.4h0M526.4 436.1h0M526.4 420.2h0M527.3 404.2h0M527.3 388.4h0M528.3 372.5h0M528.3 356.5h0M529.2 340.5h0M529.2 324.9h0M530.3 308.8h0M530.3 292.5h0M531.3 277.3h0M532.3 261.3h0M533.3 245.8h0M533.3 230.4h0M534.2 214.4h0M535.2 198.4h0M537.3 182.3h0M538.3 166.3h0M540.4 150.3h0M541.3 135.2h0M544.2 119.2h0M548.3 103.8h0M553.3 89.3h0M559.3 76.4h0M571.2 82.0h0M584.8 69.2h0M600.1 70.4h0M612.8 64.6h0M627.2 63.5h0M642.8 62.4h0M658.8 59.5h0M674.2 57.5h0M689.4 57.5h0M702.4 59.0h0M718.4 58.5h0M728.3 53.5h0M735.2 62.9h0M747.2 51.4h0M762.4 57.5h0M777.3 54.4h0M787.2 56.4h0M800.8 58.5h0M815.8 53.5h0M831.4 56.4h0M843.3 56.4h0M858.7 54.9h0M874.2 52.3h0M887.7 57.5h0M897.5 50.4h0M910.3 51.4h0M918.8 56.4h0M933.9 52.8h0M947.2 53.5h0M959.3 53.5h0M972.7 50.4h0M988.3 54.6h0M1004.3 52.3h0M1016.8 53.5h0M1032.8 51.4h0M1046.2 54.4h0M1056.7 51.8h0M1067.7 48.3h0M1079.2 57.2h0M1090.7 52.3h0M1104.8 55.4h0M1115.8 60.4h0M1128.7 58.5h0M1144.4 63.5h0M1158.5 66.4h0M1171.4 73.3h0M1186.4 81.4h0M1198.4 87.0h0M1207.4 99.7h0M1219.3 110.9h0M1227.3 125.0h0M1234.5 139.4h0M1241.4 153.8h0M1246.4 168.4h0M1255.3 182.3h0M1258.4 198.4h0M1262.4 213.3h0M1269.0 229.0h0M1272.3 244.3h0M1275.2 260.0h0M1278.1 276.0h0M1281.3 291.6h0M1285.3 307.1h0M1288.3 322.7h0M1290.4 338.7h0M1293.3 354.2h0M1295.3 370.0h0M1298.4 385.6h0M1300.3 401.1h0M1302.3 416.7h0M1304.4 432.6h0M1306.4 448.6h0M1308.3 464.8h0M1310.2 480.7h0M1312.2 495.5h0M1314.1 511.7h0M1315.4 527.5h0M1317.4 543.5h0M1319.3 559.0h0M1321.3 574.6h0M1323.0 590.4h0M1324.4 606.3h0M1326.3 622.3h0M1327.3 637.8h0M1329.2 653.6h0M1330.4 669.6h0M1332.3 685.7h0M1333.3 701.7h0M1334.3 717.4h0M1335.8 733.0h0M1336.4 748.6h0M1338.4 764.5h0M1339.4 780.7h0M1341.3 796.5h0M1342.4 811.9h0M1344.4 827.9h0M1345.3 842.7h0M1346.3 858.6h0M1348.3 874.2h0M1349.2 890.1h0M1351.4 906.1h0M1352.3 921.5h0M1353.3 937.4h0M1354.3 953.8h0M1356.2 969.3h0M1357.2 984.9h0M1359.4 1000.5h0M1361.3 1016.4h0M1363.2 1032.0h0M1365.2 1047.8h0M1370.1 1052.4h0M1373.2 1036.9h0M1374.3 1021.5h0M1375.3 1005.5h0M1376.3 989.6h0M1376.3 973.8h0M1377.3 957.9h0M1378.2 942.1h0M1378.2 926.3h0M1378.2 910.4h0M1379.2 894.4h0M1379.2 878.5h0M1380.2 862.9h0M1380.2 847.1h0M1381.1 832.0h0M1381.1 816.4h0M1382.3 800.4h0M1382.3 784.5h0M1382.4 768.6h0M1383.3 753.0h0M1383.3 737.1h0M1383.3 721.1h0M1384.3 705.2h0M1384.3 689.6h0M1384.9 673.6h0M1385.3 657.7h0M1385.3 641.7h0M1386.2 626.2h0M1386.2 610.2h0M1386.2 594.5h0M1386.2 578.5h0M1387.4 562.5h0M1387.4 546.6h0M1388.4 530.6h0M1388.4 515.1h0M1388.3 499.0h0M1389.3 483.4h0M1389.3 467.5h0M1389.3 451.5h0M1389.3 435.6h0M1390.2 419.6h0M1390.2 404.0h0M1390.2 388.1h0M1391.2 372.1h0M1391.2 356.6h0M1391.2 340.6h0M1392.2 324.6h0M1392.2 308.5h0M1392.2 292.5h0M1393.3 277.0h0M1393.3 261.0h0M1393.4 245.4h0M1394.4 229.4h0M1394.4 213.4h0M1395.3 197.5h0M1395.3 181.5h0M1396.3 166.0h0M1396.3 150.0h0M1397.3 134.5h0M1397.3 118.5h0M1398.4 102.5h0M1399.3 86.6h0M1401.3 71.1h0M1410.4 66.6h0M1421.4 57.3h0M1434.3 52.4h0M1448.4 57.5h0M1464.2 52.4h0M1480.2 57.5h0M1494.3 54.4h0M1504.3 54.4h0M1514.2 57.5h0M1526.7 56.4h0M1542.7 54.4h0M1555.3 55.4h0M1566.2 51.4h0M1581.0 55.1h0M1594.1 58.1h0M1600.8 42.8h0M1606.1 55.6h0M1610.1 58.4h0" fill="none" stroke="#ff0000" stroke-width="8.8" stroke-linecap="round"/>
<g id="blue" fill="#0000ff" stroke="none">
<rect x="1334" y="944" width="43" height="9" fill="#0000ff"/>
<rect x="1414" y="944" width="43" height="9" fill="#0000ff"/>
<rect x="1494" y="944" width="43" height="9" fill="#0000ff"/>
<rect x="1335.3" y="1087" width="43.1" height="9" fill="#0000ff"/>
<rect x="1415" y="1087" width="43" height="9" fill="#0000ff"/>
<rect x="1495" y="1087" width="43" height="9" fill="#0000ff"/>
<rect x="1334" y="944" width="9" height="42.7" fill="#0000ff"/>
<rect x="1334" y="1024.2" width="9" height="43" fill="#0000ff"/>
<rect x="1601" y="998" width="9" height="42.8" fill="#0000ff"/>
<polygon points="1576.2,943.1 1610,953.3 1610,962.3 1574.9,951.7"/>
<polygon points="1607.6,1077.1 1610,1076.2 1610,1084.9 1578.2,1096.9 1575.2,1089"/>
<path d="M1177.8 1024.9L1179.3 1026.2L1180.9 1027.4L1182.4 1028.7L1184.0 1030.0L1185.5 1031.2L1187.0 1032.5L1188.6 1033.8L1190.1 1035.1L1191.6 1036.4L1193.1 1037.7L1194.7 1039.0L1196.2 1040.3L1197.7 1041.6L1199.2 1042.9L1200.8 1044.2L1202.3 1045.5L1203.9 1046.8L1205.4 1048.0L1206.9 1049.3L1208.5 1050.6L1210.1 1051.8L1211.6 1053.1L1213.2 1054.3L1214.8 1055.5L1216.4 1056.7L1218.0 1057.9L1219.7 1059.1L1221.3 1060.3L1222.9 1061.4L1224.6 1062.6L1226.3 1063.7L1228.0 1064.8L1229.7 1065.8L1231.4 1066.9L1233.1 1067.9L1234.8 1069.0L1236.6 1070.0L1238.3 1070.9L1240.1 1071.9L1241.9 1072.8L1243.7 1073.7L1245.5 1074.6L1247.3 1075.5L1249.1 1076.3L1250.9 1077.1L1252.8 1077.9L1254.7 1078.7L1256.5 1079.4L1258.4 1080.1L1260.3 1080.8L1262.2 1081.5L1264.2 1082.1L1266.1 1082.7L1268.0 1083.2L1270.0 1083.7L1271.9 1084.2L1273.9 1084.7L1275.9 1085.1L1277.8 1085.5L1279.8 1085.8L1281.8 1086.2L1283.8 1086.4L1285.8 1086.7L1287.7 1086.8L1289.7 1087.0L1291.7 1087.1L1293.7 1087.2L1295.7 1087.2L1297.7 1087.2L1299.7 1087.1L1301.7 1087.0L1303.7 1086.8L1305.6 1086.6L1307.6 1086.3L1309.6 1086.0L1311.5 1085.7L1313.5 1085.3L1315.5 1084.8L1317.4 1084.3L1319.3 1083.7L1321.3 1083.1L1323.2 1082.4L1325.1 1081.6L1327.0 1080.8L1328.9 1080.0" fill="none" stroke="#0000ff" stroke-width="8" stroke-linejoin="round" />
<polygon points="1158.4,993.5 1162.9,992.3 1203.6,1026 1202.3,1029.8 1190.9,1029.1 1176.2,1027.2 1164.2,1047.6 1157.8,1047.6"/>
</g>
<g id="axes">
<rect x="163" y="28" width="6" height="1174" fill="#000"/>
<rect x="163" y="28" width="1454" height="6" fill="#000"/>
<rect x="153" y="1196" width="1464" height="6" fill="#000"/>
<rect x="143" y="51" width="23" height="6" fill="#000"/>
<rect x="143" y="510" width="23" height="6" fill="#000"/>
<rect x="143" y="967" width="23" height="6" fill="#000"/>
<rect x="153" y="281" width="13" height="6" fill="#000"/>
<rect x="153" y="739" width="13" height="6" fill="#000"/>
<rect x="163" y="1199" width="6" height="23" fill="#000"/>
<rect x="452" y="1199" width="6" height="23" fill="#000"/>
<rect x="742" y="1199" width="6" height="23" fill="#000"/>
<rect x="1032" y="1199" width="6" height="23" fill="#000"/>
<rect x="1321" y="1199" width="6" height="23" fill="#000"/>
<rect x="1611" y="1199" width="6" height="23" fill="#000"/>
<rect x="308" y="1199" width="6" height="11" fill="#000"/>
<rect x="597" y="1199" width="6" height="11" fill="#000"/>
<rect x="887" y="1199" width="6" height="11" fill="#000"/>
<rect x="1177" y="1199" width="6" height="11" fill="#000"/>
<rect x="1466" y="1199" width="6" height="11" fill="#000"/>
<rect x="1612" y="29" width="4" height="1172" fill="#ff0000"/>
<rect x="1614" y="49" width="23" height="4" fill="#ff0000"/>
<rect x="1614" y="432" width="23" height="4" fill="#ff0000"/>
<rect x="1614" y="815" width="23" height="4" fill="#ff0000"/>
<rect x="1614" y="1197" width="23" height="4" fill="#ff0000"/>
<rect x="1614" y="240" width="11" height="4" fill="#ff0000"/>
<rect x="1614" y="623" width="11" height="4" fill="#ff0000"/>
<rect x="1614" y="1005" width="11" height="4" fill="#ff0000"/>
</g>
<g id="labels">
<text transform="translate(127,74.2) scale(1,1.04)" font-size="66.5" text-anchor="end" fill="#000"><tspan x="-71.97">1</tspan><tspan x="0">00</tspan></text>
<text transform="translate(127,532.2) scale(1,1.04)" font-size="66.5" text-anchor="end" fill="#000">80</text>
<text transform="translate(127,990.2) scale(1,1.04)" font-size="66.5" text-anchor="end" fill="#000">60</text>
<text transform="translate(166,1290.3) scale(1,1.04)" font-size="66.5" text-anchor="middle" fill="#000">0</text>
<text transform="translate(455.6,1290.3) scale(1,1.04)" font-size="66.5" text-anchor="middle" fill="#000">200</text>
<text transform="translate(745.2,1290.3) scale(1,1.04)" font-size="66.5" text-anchor="middle" fill="#000">400</text>
<text transform="translate(1034.8,1290.3) scale(1,1.04)" font-size="66.5" text-anchor="middle" fill="#000">600</text>
<text transform="translate(1324.4,1290.3) scale(1,1.04)" font-size="66.5" text-anchor="middle" fill="#000">800</text>
<text transform="translate(1614,1290.3) scale(1,1.04)" font-size="66.5" text-anchor="middle" fill="#000"><tspan x="-53.48">1</tspan><tspan x="18.49">000</tspan></text>
<text transform="translate(1652.5,68.9) scale(1,1.04)" font-size="66.5" text-anchor="start" fill="#ff0000">0</text>
<text transform="translate(1652.5,452.17) scale(1,1.04)" font-size="66.5" text-anchor="start" fill="#ff0000"><tspan dx="1.5">-</tspan><tspan dx="-1.5">2</tspan></text>
<text transform="translate(1652.5,834.83) scale(1,1.04)" font-size="66.5" text-anchor="start" fill="#ff0000"><tspan dx="1.5">-</tspan><tspan dx="-1.5">4</tspan></text>
<text transform="translate(1652.5,1217.5) scale(1,1.04)" font-size="66.5" text-anchor="start" fill="#ff0000"><tspan dx="1.5">-</tspan><tspan dx="-1.5">6</tspan></text>
<text transform="translate(622,1403.8) scale(1,1.04)" font-size="67.05" text-anchor="start" fill="#000">Temperature <tspan x="420.3" font-size="57.3">(</tspan><tspan x="441.5" font-size="44" dy="-25">o</tspan><tspan x="468.2" font-size="67" dy="25" textLength="46.2" lengthAdjust="spacingAndGlyphs">C</tspan><tspan x="516.8" font-size="57.3">)</tspan></text>
<path d="M813.7 155.3 H952.4" stroke="#000" stroke-width="9" stroke-linecap="round" fill="none"/>
<path d="M813.5 232.5 H941" stroke="#ff0000" stroke-width="9" stroke-linecap="round" stroke-dasharray="0 15.86" fill="none"/>
<text transform="translate(969,177) scale(1,1.04)" font-size="60.5" text-anchor="start" fill="#000">TG</text>
<text transform="translate(968.5,252.8) scale(1,1.04)" font-size="60.5" text-anchor="start" fill="#000">DTG</text>
</g>
<g id="one-foot-masks" fill="#fff">
<rect x="20.5" y="67" width="13.03" height="8" fill="#fff"/>
<rect x="42.63" y="67" width="12.87" height="8" fill="#fff"/>
<rect x="1544.5" y="1283" width="13.03" height="8" fill="#fff"/>
<rect x="1566.63" y="1283" width="12.87" height="8" fill="#fff"/>
<rect x="1097" y="1093.27" width="6.09" height="3.73" fill="#fff"/>
<rect x="1106.62" y="1093.27" width="4.98" height="3.73" fill="#fff"/>
</g>
</svg>
</body>
</html>
